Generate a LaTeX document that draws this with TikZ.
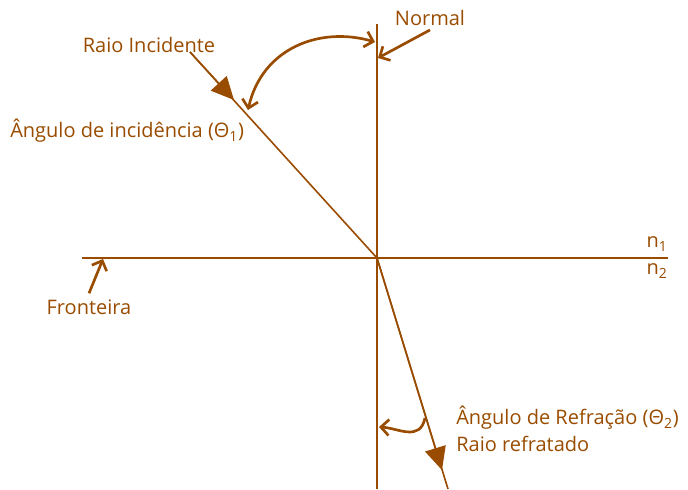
\documentclass[tikz,border=0pt]{standalone}
\usepackage{fontspec}
\setmainfont{Open Sans}
\usetikzlibrary{arrows.meta}
\definecolor{raybrown}{RGB}{153,76,0}
\begin{document}
\begin{tikzpicture}[
        x=0.75pt, y=-0.75pt,
        every node/.style={text=raybrown, font=\fontsize{15}{18}\selectfont, inner sep=0pt},
        axisline/.style={raybrown, line width=1.2pt},
        rayhead/.style={
            raybrown,
            line width=1.2pt,
            -{Triangle[length=17pt,width=16pt]},},
        pointer/.style={
            raybrown,
            line width=2pt,
            -{Straight Barb[length=6pt,width=12pt]},},
        anglearc/.style={
            raybrown,
            line width=2pt,
            {Straight Barb[length=6pt,width=12pt]}-{Straight Barb[length=6pt,width=12pt]},}
        ]
    \useasboundingbox (0,0) rectangle (688,489);

    % lines
    \coordinate (origin) at (377,258);
    \coordinate (normaltop) at (377,24);
    \coordinate (normalbottom) at (377,489);
    \coordinate (borderleft) at (82,258);
    \coordinate (borderright) at (668,258);
    \coordinate (incstart) at (190,52);
    \coordinate (inctip) at (234,100);
    \coordinate (refend) at (448,489);
    \coordinate (reftip) at (442,470);

    \draw[axisline] (normaltop) -- (normalbottom);
    \draw[axisline] (borderleft) -- (borderright);
    \draw[axisline] (incstart) -- (origin);
    \draw[axisline] (origin) -- (refend);
    \draw[rayhead] (incstart) -- (inctip);
    \draw[rayhead] (origin) -- (reftip);

    % labels
    \node (normallabel) at (430,18) {Normal};
    \node (inclabel) at (149,45) {Raio Incidente};
    \node[anchor=west] (incangle) at (10,131) {Ângulo de incidência (Θ\textsubscript{1})};
    \node (frontlabel) at (89,307) {Fronteira};
    \node (nonelabel) at (657,244) {n\textsubscript{1}};
    \node (ntwolabel) at (657,271) {n\textsubscript{2}};
    \node[anchor=west] (refangle) at (456,418) {Ângulo de Refração (Θ\textsubscript{2})};
    \node[anchor=west] (reflabel) at (456,444) {Raio refratado};

    % pointers
    \coordinate (normalmark) at (378,58);
    \coordinate (frontmark) at (103,259);
    \coordinate (arcright) at (375,42);
    \coordinate (arcleft) at (248,110);
    \coordinate (refarcstart) at (425,418);
    \coordinate (refarcend) at (379,427);

    \draw[pointer] (normallabel.south) ++(0,4) -- (normalmark);
    \draw[pointer] (frontlabel.north) ++(0,-6) -- (frontmark);
    \draw[anglearc] (arcright) .. controls (320,26) and (262,48) .. (arcleft);
    \draw[pointer] (refarcstart) .. controls (420,442) and (398,428) .. (refarcend);

\end{tikzpicture}
\end{document}
